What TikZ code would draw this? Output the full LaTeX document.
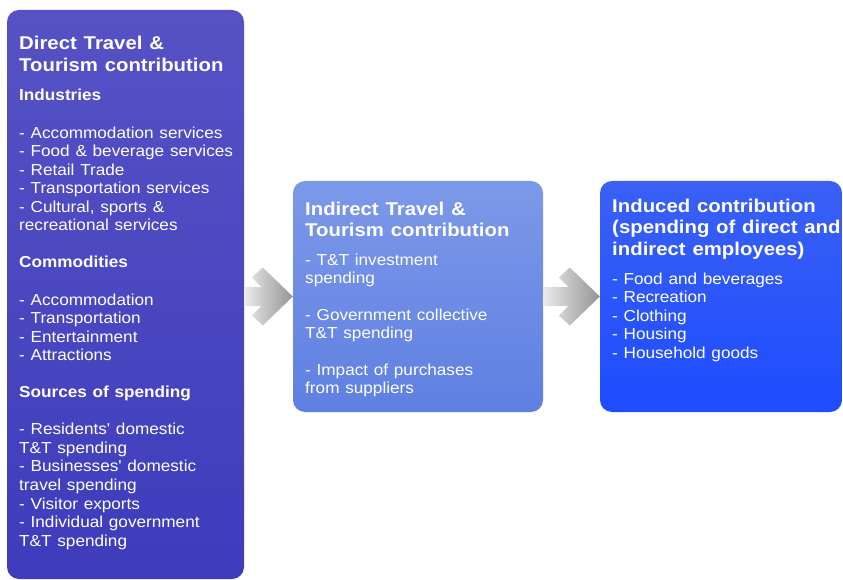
\documentclass[tikz,border=0pt]{standalone}
\usepackage{fontspec}
\setmainfont{Liberation Sans}
\usetikzlibrary{calc}

\definecolor{directtop}{RGB}{86,82,197}
\definecolor{directbot}{RGB}{62,60,188}
\definecolor{indirtop}{RGB}{124,152,232}
\definecolor{indirbot}{RGB}{95,128,226}
\definecolor{inductop}{RGB}{58,96,244}
\definecolor{inducbot}{RGB}{30,76,255}

\begin{document}
\begin{tikzpicture}[x=1pt, y=-1pt,
    box/.style={rounded corners=12pt, inner sep=0pt},
    head/.style={anchor=base west, inner sep=0pt, white, xscale=1.1, align=left, text width=230pt,
        font=\fontsize{18.5}{21.6}\selectfont\bfseries},
    body/.style={anchor=base west, inner sep=0pt, white, xscale=1.08, align=left, text width=230pt,
        font=\fontsize{15.9}{18.55}\selectfont},
    flow/.style={left color=black!8, right color=black!42}]
        \useasboundingbox (0,0) rectangle (843,580);

        % Ba khối đóng góp
        \node[box, minimum width=237pt, minimum height=569pt, top color=directtop, bottom color=directbot] (direct) at (125.5,294.5) {};
        \node[box, minimum width=250pt, minimum height=231pt, top color=indirtop, bottom color=indirbot] (indirect) at (418,296.5) {};
        \node[box, minimum width=242pt, minimum height=231pt, top color=inductop, bottom color=inducbot] (induced) at (721,296.5) {};

        % Mũi tên xám giữa các khối
        \path[flow] (direct.east |- indirect.west) ++(0,-9.5) -- ($(indirect.west)+(-31.5,-9.5)$) -- ++(-9.5,-9.5) -- ++(11,-10)
            -- (indirect.west) -- ++(-30,29) -- ++(-11,-10) -- ++(9.5,-9.5) -- ($(direct.east |- indirect.west)+(0,9.5)$) -- cycle;
        \path[flow] (indirect.east |- induced.west) ++(0,-9.5) -- ($(induced.west)+(-31.5,-9.5)$) -- ++(-9.5,-9.5) -- ++(11,-10)
            -- (induced.west) -- ++(-30,29) -- ++(-11,-10) -- ++(9.5,-9.5) -- ($(indirect.east |- induced.west)+(0,9.5)$) -- cycle;

        % Đóng góp trực tiếp
        \node[head] (directtitle) at (19,50) {Direct Travel \&\\Tourism contribution};
        \node[body] (directlist) at (19,101) {\textbf{Industries}\\[18.55pt]
            - Accommodation services\\- Food \& beverage services\\- Retail Trade\\- Transportation services\\
            - Cultural, sports \&\\recreational services\\[18.55pt]
            \textbf{Commodities}\\[18.55pt]
            - Accommodation\\- Transportation\\- Entertainment\\- Attractions\\[18.55pt]
            \textbf{Sources of spending}\\[18.55pt]
            - Residents\textquotesingle{} domestic\\T\&T spending\\- Businesses\textquotesingle{} domestic\\travel spending\\
            - Visitor exports\\- Individual government\\T\&T spending};

        % Đóng góp gián tiếp
        \node[head] (indirtitle) at (305,215) {Indirect Travel \&\\Tourism contribution};
        \node[body, font=\fontsize{15.9}{18.4}\selectfont] (indirlist) at (305,265) {- T\&T investment\\spending\\[18.4pt]
            - Government collective\\T\&T spending\\[18.4pt]
            - Impact of purchases\\from suppliers};

        % Đóng góp phát sinh
        \node[head] (inductitle) at (612,212) {Induced contribution\\(spending of direct and\\indirect employees)};
        \node[body] (induclist) at (612,284) {- Food and beverages\\- Recreation\\- Clothing\\- Housing\\- Household goods};
    \end{tikzpicture}
\end{document}
